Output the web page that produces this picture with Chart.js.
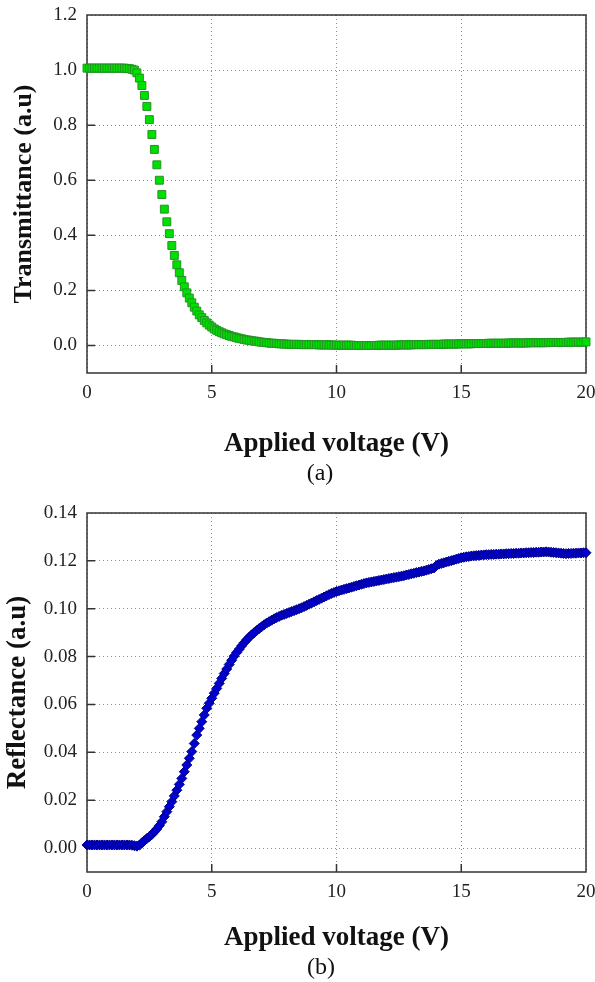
<!DOCTYPE html>
<html lang="en">
  <head>
    <meta charset="UTF-8" />
    <title>Transmittance and reflectance vs applied voltage</title>
    <script src="https://cdn.jsdelivr.net/npm/chart.js@4.4.1/dist/chart.umd.min.js"></script>
    <style>
      body {
        margin: 0;
        background: #ffffff;
        font-family: "Liberation Serif", "Times New Roman", serif;
      }
      .page {
        position: relative;
        width: 595px;
        height: 982px;
      }
      canvas {
        position: absolute;
        left: 0;
      }
      .caption {
        position: absolute;
        transform: translate(-50%, -50%);
        font-size: 24px;
        color: #111;
        white-space: nowrap;
      }
    </style>
  </head>
  <body>
    <div class="page">
      <canvas id="chartA" width="595" height="490" style="top: 0"></canvas>
      <canvas id="chartB" width="595" height="492" style="top: 490px"></canvas>
      <div class="caption" style="left: 320px; top: 472px">(a)</div>
      <div class="caption" style="left: 321px; top: 966px">(b)</div>
    </div>
    <script>
      // applied voltage sweep (V), 0.1 V steps
      const voltage = [
        0, 0.1, 0.2, 0.3, 0.4, 0.5, 0.6, 0.7, 0.8, 0.9,
        1, 1.1, 1.2, 1.3, 1.4, 1.5, 1.6, 1.7, 1.8, 1.9,
        2, 2.1, 2.2, 2.3, 2.4, 2.5, 2.6, 2.7, 2.8, 2.9,
        3, 3.1, 3.2, 3.3, 3.4, 3.5, 3.6, 3.7, 3.8, 3.9,
        4, 4.1, 4.2, 4.3, 4.4, 4.5, 4.6, 4.7, 4.8, 4.9,
        5, 5.1, 5.2, 5.3, 5.4, 5.5, 5.6, 5.7, 5.8, 5.9,
        6, 6.1, 6.2, 6.3, 6.4, 6.5, 6.6, 6.7, 6.8, 6.9,
        7, 7.1, 7.2, 7.3, 7.4, 7.5, 7.6, 7.7, 7.8, 7.9,
        8, 8.1, 8.2, 8.3, 8.4, 8.5, 8.6, 8.7, 8.8, 8.9,
        9, 9.1, 9.2, 9.3, 9.4, 9.5, 9.6, 9.7, 9.8, 9.9,
        10, 10.1, 10.2, 10.3, 10.4, 10.5, 10.6, 10.7, 10.8, 10.9,
        11, 11.1, 11.2, 11.3, 11.4, 11.5, 11.6, 11.7, 11.8, 11.9,
        12, 12.1, 12.2, 12.3, 12.4, 12.5, 12.6, 12.7, 12.8, 12.9,
        13, 13.1, 13.2, 13.3, 13.4, 13.5, 13.6, 13.7, 13.8, 13.9,
        14, 14.1, 14.2, 14.3, 14.4, 14.5, 14.6, 14.7, 14.8, 14.9,
        15, 15.1, 15.2, 15.3, 15.4, 15.5, 15.6, 15.7, 15.8, 15.9,
        16, 16.1, 16.2, 16.3, 16.4, 16.5, 16.6, 16.7, 16.8, 16.9,
        17, 17.1, 17.2, 17.3, 17.4, 17.5, 17.6, 17.7, 17.8, 17.9,
        18, 18.1, 18.2, 18.3, 18.4, 18.5, 18.6, 18.7, 18.8, 18.9,
        19, 19.1, 19.2, 19.3, 19.4, 19.5, 19.6, 19.7, 19.8, 19.9,
        20,
      ];

      // (a) transmittance (a.u)
      const transmittance = [
        1.007, 1.007, 1.007, 1.007, 1.007, 1.007, 1.007, 1.007, 1.007, 1.007,
        1.007, 1.007, 1.007, 1.007, 1.007, 1.007, 1.006, 1.005, 1.003, 1.0,
        0.99, 0.971, 0.944, 0.908, 0.868, 0.82, 0.766, 0.712, 0.656, 0.6,
        0.548, 0.495, 0.449, 0.406, 0.363, 0.327, 0.293, 0.264, 0.236, 0.213,
        0.191, 0.172, 0.155, 0.139, 0.125, 0.111, 0.101, 0.091, 0.082, 0.074,
        0.067, 0.06, 0.055, 0.05, 0.046, 0.042, 0.039, 0.036, 0.033, 0.031,
        0.028, 0.026, 0.024, 0.022, 0.02, 0.019, 0.017, 0.016, 0.015, 0.013,
        0.012, 0.011, 0.01, 0.009, 0.008, 0.008, 0.007, 0.006, 0.006, 0.005,
        0.005, 0.004, 0.004, 0.004, 0.004, 0.004, 0.003, 0.003, 0.003, 0.003,
        0.003, 0.003, 0.003, 0.002, 0.002, 0.002, 0.002, 0.002, 0.002, 0.001,
        0.001, 0.001, 0.001, 0.001, 0.001, 0.001, 0.001, 0.0, 0.0, 0.0,
        0.0, 0.0, 0.0, 0.0, 0.0, 0.0, 0.0, 0.001, 0.001, 0.001,
        0.001, 0.001, 0.001, 0.001, 0.001, 0.002, 0.002, 0.002, 0.002, 0.002,
        0.002, 0.003, 0.003, 0.003, 0.003, 0.003, 0.003, 0.004, 0.004, 0.004,
        0.004, 0.004, 0.004, 0.005, 0.005, 0.005, 0.005, 0.005, 0.005, 0.006,
        0.006, 0.006, 0.006, 0.006, 0.006, 0.007, 0.007, 0.007, 0.007, 0.007,
        0.007, 0.008, 0.008, 0.008, 0.008, 0.008, 0.008, 0.008, 0.008, 0.009,
        0.009, 0.009, 0.009, 0.009, 0.009, 0.009, 0.009, 0.01, 0.01, 0.01,
        0.01, 0.01, 0.01, 0.01, 0.01, 0.011, 0.011, 0.011, 0.011, 0.011,
        0.011, 0.011, 0.011, 0.012, 0.012, 0.012, 0.012, 0.012, 0.012, 0.012,
        0.013,
      ];

      // (b) reflectance (a.u)
      const reflectance = [
        0.0013, 0.0013, 0.0013, 0.0013, 0.0013, 0.0013, 0.0013, 0.0013, 0.0013, 0.0013,
        0.0013, 0.0013, 0.0013, 0.0013, 0.0013, 0.0013, 0.0013, 0.0013, 0.0012, 0.001,
        0.0008, 0.0012, 0.0022, 0.0031, 0.004, 0.0048, 0.0057, 0.0068, 0.008, 0.0094,
        0.011, 0.0131, 0.0152, 0.0173, 0.0194, 0.0218, 0.0242, 0.0266, 0.0291, 0.0319,
        0.0347, 0.0375, 0.0403, 0.0437, 0.0472, 0.05, 0.0528, 0.0556, 0.0584, 0.0605,
        0.0626, 0.0647, 0.0667, 0.0688, 0.0709, 0.0729, 0.0748, 0.0767, 0.0785, 0.0802,
        0.0817, 0.0831, 0.0845, 0.0858, 0.087, 0.0881, 0.0891, 0.09, 0.0909, 0.0917,
        0.0925, 0.0933, 0.094, 0.0946, 0.0952, 0.0958, 0.0963, 0.0968, 0.0973, 0.0976,
        0.098, 0.0984, 0.0988, 0.0992, 0.0996, 0.1, 0.1004, 0.1009, 0.1014, 0.1019,
        0.1024, 0.1029, 0.1034, 0.1039, 0.1044, 0.1049, 0.1054, 0.1059, 0.1064, 0.1068,
        0.1072, 0.1075, 0.1078, 0.1081, 0.1084, 0.1087, 0.109, 0.1093, 0.1096, 0.1099,
        0.1102, 0.1105, 0.1108, 0.111, 0.1112, 0.1114, 0.1116, 0.1118, 0.112, 0.1122,
        0.1124, 0.1126, 0.1128, 0.113, 0.1132, 0.1134, 0.1136, 0.1138, 0.1141, 0.1143,
        0.1146, 0.1148, 0.1151, 0.1153, 0.1156, 0.1158, 0.1161, 0.1164, 0.1167, 0.117,
        0.118, 0.1186, 0.1189, 0.1192, 0.1195, 0.1198, 0.1201, 0.1204, 0.1207, 0.121,
        0.1213, 0.1215, 0.1217, 0.1218, 0.122, 0.1221, 0.1222, 0.1223, 0.1224, 0.1225,
        0.1226, 0.1226, 0.1227, 0.1227, 0.1228, 0.1228, 0.1229, 0.1229, 0.123, 0.123,
        0.1231, 0.1231, 0.1232, 0.1232, 0.1233, 0.1233, 0.1234, 0.1234, 0.1235, 0.1235,
        0.1236, 0.1236, 0.1237, 0.1237, 0.1238, 0.1237, 0.1236, 0.1235, 0.1234, 0.1233,
        0.1232, 0.1231, 0.123, 0.1231, 0.1231, 0.1232, 0.1232, 0.1233, 0.1233, 0.1234,
        0.1234,
      ];

      // tick labels
      const xTicks = [0, 5, 10, 15, 20];
      const yTicksA = [0, 0.2, 0.4, 0.6, 0.8, 1.0, 1.2];
      const yTicksB = [0, 0.02, 0.04, 0.06, 0.08, 0.1, 0.12, 0.14];

      const serif = '"Liberation Serif", "Times New Roman", serif';

      // box around the plot plus short inward tick marks
      const framePlugin = {
        id: "frame",
        beforeDatasetsDraw(chart) {
          const {ctx, chartArea: a, scales} = chart;
          ctx.save();
          ctx.strokeStyle = "#333";
          ctx.lineWidth = 1.5;
          ctx.strokeRect(a.left, a.top, a.right - a.left, a.bottom - a.top);
          ctx.beginPath();
          scales.y.ticks.forEach((t) => {
            const y = scales.y.getPixelForValue(t.value);
            if (y > a.top + 1 && y < a.bottom - 1) {
              ctx.moveTo(a.left, y);
              ctx.lineTo(a.left + 8, y);
            }
          });
          scales.x.ticks.forEach((t) => {
            const x = scales.x.getPixelForValue(t.value);
            if (x > a.left + 1 && x < a.right - 1) {
              ctx.moveTo(x, a.bottom);
              ctx.lineTo(x, a.bottom - 8);
            }
          });
          ctx.stroke();
          ctx.restore();
        },
      };

      function makeChart(id, opts) {
        const points = voltage.map((v, i) => ({x: v, y: opts.values[i]}));
        return new Chart(document.getElementById(id), {
          type: "scatter",
          data: {
            datasets: [
              {
                data: points,
                pointStyle: opts.style,
                pointRadius: opts.radius,
                pointBackgroundColor: opts.fill,
                pointBorderColor: opts.edge,
                pointBorderWidth: 1,
                clip: false,
              },
            ],
          },
          options: {
            responsive: false,
            devicePixelRatio: 1,
            animation: false,
            events: [],
            layout: {padding: {top: opts.top, right: 9, left: 0, bottom: 0}},
            plugins: {legend: {display: false}, tooltip: {enabled: false}},
            scales: {
              x: {
                type: "linear",
                min: 0,
                max: 20,
                afterBuildTicks: (s) => {
                  s.ticks = xTicks.map((v) => ({value: v}));
                },
                afterFit: (s) => {
                  s.height = opts.xHeight;
                  // keep the plot box where the layout padding puts it
                  s.paddingLeft = 0;
                  s.paddingRight = 0;
                },
                ticks: {
                  autoSkip: false,
                  maxRotation: 0,
                  padding: 9,
                  color: "#222",
                  font: {family: serif, size: 19},
                },
                grid: {color: "#8a8a8a", lineWidth: 1, drawTicks: false, borderDash: [1, 3]},
                border: {display: false, dash: [1, 3]},
                title: {
                  display: true,
                  text: "Applied voltage (V)",
                  color: "#111",
                  font: {family: serif, size: 27, weight: "bold"},
                  padding: {top: 0, bottom: opts.xTitlePad},
                },
              },
              y: {
                type: "linear",
                min: opts.yMin,
                max: opts.yMax,
                afterBuildTicks: (s) => {
                  s.ticks = opts.yTicks.map((v) => ({value: v}));
                },
                afterFit: (s) => {
                  s.width = 87;
                  s.paddingTop = 0;
                  s.paddingBottom = 0;
                },
                ticks: {
                  autoSkip: false,
                  padding: 10,
                  color: "#222",
                  font: {family: serif, size: 19},
                  callback: (v) => v.toFixed(opts.digits),
                },
                grid: {color: "#8a8a8a", lineWidth: 1, drawTicks: false, borderDash: [1, 3]},
                border: {display: false, dash: [1, 3]},
                title: {
                  display: true,
                  text: opts.yTitle,
                  color: "#111",
                  font: {family: serif, size: opts.yTitleSize, weight: "bold"},
                  padding: {top: opts.yTitlePad, bottom: 0},
                },
              },
            },
          },
          plugins: [framePlugin],
        });
      }

      makeChart("chartA", {
        values: transmittance,
        style: "rect",
        radius: 5.6,
        fill: "#00e000",
        edge: "#239323",
        top: 15,
        xHeight: 117,
        xTitlePad: 30,
        yMin: -0.1,
        yMax: 1.2,
        yTicks: yTicksA,
        digits: 1,
        yTitle: "Transmittance (a.u)",
        yTitleSize: 26,
        yTitlePad: 9,
      });

      makeChart("chartB", {
        values: reflectance,
        style: "rectRot",
        radius: 5,
        fill: "#0000d0",
        edge: "#00008a",
        top: 23,
        xHeight: 110,
        xTitlePad: 28,
        yMin: -0.01,
        yMax: 0.14,
        yTicks: yTicksB,
        digits: 2,
        yTitle: "Reflectance (a.u)",
        yTitleSize: 27,
        yTitlePad: 2,
      });
    </script>
  </body>
</html>
